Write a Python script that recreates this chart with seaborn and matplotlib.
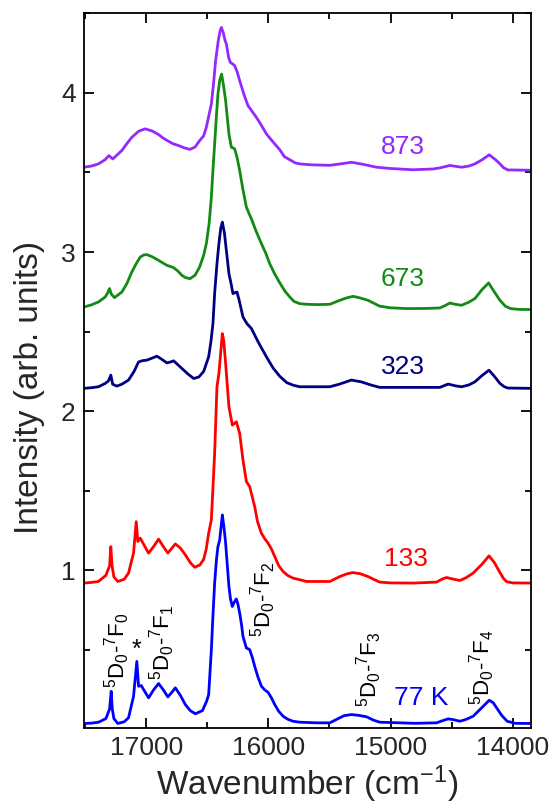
import pandas as pd
import matplotlib
matplotlib.use('Agg')
import matplotlib.pyplot as plt
import seaborn as sns
from matplotlib.ticker import MultipleLocator, FixedLocator

# Emission spectra at several temperatures
wn_77 = [17510, 17450, 17391, 17330, 17300, 17287, 17278, 17265, 17233, 17180, 17145, 17104,
         17077, 17063, 17041, 16981, 16940, 16899, 16860, 16823, 16790, 16762, 16720, 16680,
         16640, 16598, 16540, 16505, 16489, 16467, 16455, 16440, 16425, 16413, 16399, 16377,
         16365, 16350, 16337, 16323, 16310, 16295, 16280, 16262, 16250, 16235, 16220, 16208,
         16180, 16153, 16130, 16112, 16085, 16057, 16030, 16003, 15975, 15948, 15915, 15880,
         15840, 15798, 15743, 15600, 15497, 15415, 15380, 15320, 15260, 15197, 15140, 15088,
         14800, 14623, 14580, 14528, 14480, 14432, 14380, 14323, 14250, 14192, 14160, 14131,
         14090, 14045, 13980, 13850]
int_77 = [0.039, 0.041, 0.047, 0.07, 0.13, 0.241, 0.13, 0.07, 0.039, 0.05, 0.075, 0.210,
          0.429, 0.273, 0.277, 0.200, 0.25, 0.290, 0.25, 0.206, 0.235, 0.263, 0.215, 0.158,
          0.12, 0.10, 0.12, 0.18, 0.22, 0.50, 0.70, 0.92, 1.07, 1.15, 1.19, 1.349,
          1.28, 1.172, 1.04, 0.90, 0.82, 0.774, 0.80, 0.821, 0.79, 0.733, 0.66, 0.586,
          0.513, 0.503, 0.45, 0.398, 0.33, 0.273, 0.25, 0.235, 0.20, 0.158, 0.115, 0.085,
          0.065, 0.053, 0.047, 0.043, 0.043, 0.075, 0.088, 0.095, 0.09, 0.081, 0.06, 0.047,
          0.040, 0.043, 0.055, 0.068, 0.062, 0.053, 0.065, 0.085, 0.14, 0.185, 0.17, 0.137,
          0.09, 0.053, 0.040, 0.039]

wn_133 = [17510, 17450, 17391, 17330, 17300, 17290, 17280, 17265, 17233, 17180, 17145, 17104,
          17082, 17069, 17049, 16981, 16940, 16899, 16860, 16823, 16790, 16762, 16720, 16680,
          16640, 16604, 16560, 16530, 16510, 16489, 16467, 16455, 16440, 16421, 16405, 16390,
          16377, 16365, 16350, 16323, 16295, 16262, 16235, 16208, 16180, 16153, 16112, 16090,
          16057, 16030, 16003, 15975, 15948, 15915, 15880, 15840, 15798, 15743, 15688, 15600,
          15497, 15415, 15360, 15311, 15250, 15184, 15140, 15088, 15000, 14815, 14623, 14580,
          14541, 14500, 14432, 14380, 14323, 14250, 14194, 14150, 14104, 14075, 14050, 14000,
          13850]
int_133 = [0.921, 0.925, 0.931, 0.97, 1.03, 1.150, 1.03, 0.96, 0.931, 0.945, 0.984, 1.109,
           1.307, 1.182, 1.203, 1.109, 1.15, 1.197, 1.15, 1.109, 1.14, 1.167, 1.14, 1.098,
           1.05, 1.02, 1.035, 1.07, 1.13, 1.234, 1.318, 1.50, 1.736, 2.154, 2.238, 2.37,
           2.488, 2.44, 2.300, 2.028, 1.913, 1.934, 1.861, 1.694, 1.558, 1.527, 1.401, 1.31,
           1.234, 1.20, 1.172, 1.135, 1.088, 1.03, 0.994, 0.968, 0.952, 0.942, 0.931, 0.931,
           0.931, 0.962, 0.978, 0.987, 0.98, 0.962, 0.945, 0.927, 0.922, 0.921, 0.927, 0.945,
           0.956, 0.948, 0.937, 0.955, 0.984, 1.04, 1.092, 1.05, 0.987, 0.95, 0.93, 0.922,
           0.921]

wn_323 = [17510, 17450, 17391, 17336, 17310, 17290, 17275, 17241, 17200, 17145, 17100, 17063,
          17030, 16995, 16955, 16913, 16870, 16831, 16800, 16776, 16745, 16708, 16660, 16612,
          16570, 16530, 16489, 16470, 16454, 16440, 16421, 16405, 16390, 16377, 16360, 16344,
          16323, 16305, 16290, 16275, 16257, 16240, 16208, 16175, 16139, 16080, 16016, 15960,
          15907, 15850, 15798, 15743, 15650, 15497, 15420, 15320, 15240, 15160, 15088, 14900,
          14596, 14528, 14470, 14418, 14360, 14309, 14250, 14194, 14150, 14104, 14070, 14040,
          13850]
int_323 = [2.144, 2.148, 2.154, 2.175, 2.19, 2.227, 2.17, 2.158, 2.17, 2.196, 2.25, 2.310,
           2.318, 2.321, 2.333, 2.346, 2.325, 2.304, 2.31, 2.317, 2.295, 2.269, 2.235, 2.206,
           2.215, 2.25, 2.342, 2.44, 2.55, 2.74, 2.927, 3.053, 3.15, 3.188, 3.12, 3.01,
           2.865, 2.80, 2.739, 2.745, 2.749, 2.70, 2.592, 2.55, 2.52, 2.43, 2.342, 2.27,
           2.22, 2.18, 2.164, 2.154, 2.154, 2.154, 2.17, 2.196, 2.185, 2.165, 2.150, 2.15,
           2.150, 2.171, 2.16, 2.154, 2.165, 2.185, 2.225, 2.258, 2.22, 2.175, 2.155, 2.146,
           2.144]

wn_673 = [17510, 17450, 17391, 17336, 17315, 17301, 17285, 17260, 17200, 17160, 17118, 17080,
          17049, 17020, 16995, 16950, 16899, 16860, 16831, 16776, 16740, 16708, 16680, 16642,
          16600, 16563, 16530, 16508, 16485, 16467, 16455, 16440, 16425, 16413, 16398, 16383,
          16368, 16350, 16336, 16323, 16303, 16290, 16276, 16255, 16235, 16210, 16180, 16160,
          16139, 16100, 16057, 16020, 15989, 15950, 15907, 15865, 15825, 15790, 15743, 15688,
          15600, 15497, 15415, 15360, 15306, 15250, 15184, 15140, 15088, 15000, 14869, 14700,
          14596, 14550, 14514, 14470, 14418, 14360, 14309, 14250, 14197, 14150, 14104, 14060,
          14017, 13950, 13850]
int_673 = [2.655, 2.668, 2.687, 2.718, 2.745, 2.771, 2.735, 2.714, 2.749, 2.80, 2.875, 2.93,
           2.969, 2.982, 2.984, 2.97, 2.948, 2.93, 2.917, 2.902, 2.88, 2.854, 2.84, 2.833,
           2.855, 2.906, 2.98, 3.053, 3.18, 3.345, 3.50, 3.680, 3.86, 3.993, 4.08, 4.118,
           4.05, 3.951, 3.84, 3.742, 3.658, 3.655, 3.648, 3.59, 3.512, 3.40, 3.282, 3.245,
           3.209, 3.13, 3.053, 2.99, 2.927, 2.865, 2.807, 2.755, 2.718, 2.69, 2.676, 2.672,
           2.67, 2.672, 2.697, 2.712, 2.722, 2.712, 2.697, 2.68, 2.660, 2.65, 2.645, 2.646,
           2.649, 2.665, 2.680, 2.672, 2.666, 2.685, 2.708, 2.765, 2.806, 2.75, 2.697, 2.66,
           2.645, 2.64, 2.639]

wn_873 = [17510, 17450, 17391, 17336, 17306, 17274, 17200, 17160, 17118, 17060, 17008, 16950,
          16899, 16860, 16817, 16780, 16735, 16690, 16642, 16600, 16563, 16530, 16508, 16467,
          16450, 16432, 16410, 16395, 16385, 16370, 16355, 16344, 16325, 16311, 16290, 16276,
          16255, 16235, 16200, 16167, 16130, 16098, 16060, 16016, 15960, 15907, 15870, 15825,
          15780, 15743, 15650, 15497, 15400, 15320, 15230, 15115, 15000, 14815, 14650, 14596,
          14514, 14418, 14360, 14309, 14250, 14192, 14140, 14104, 14075, 14040, 13850]
int_873 = [3.533, 3.54, 3.554, 3.581, 3.606, 3.585, 3.638, 3.68, 3.721, 3.76, 3.774, 3.76,
           3.738, 3.715, 3.696, 3.68, 3.669, 3.655, 3.645, 3.66, 3.700, 3.73, 3.784, 3.930,
           4.05, 4.202, 4.33, 4.39, 4.411, 4.38, 4.33, 4.307, 4.22, 4.191, 4.18, 4.171,
           4.13, 4.077, 3.99, 3.920, 3.88, 3.846, 3.80, 3.742, 3.69, 3.643, 3.60, 3.580,
           3.56, 3.554, 3.548, 3.545, 3.555, 3.564, 3.552, 3.533, 3.525, 3.517, 3.522, 3.529,
           3.544, 3.533, 3.54, 3.554, 3.58, 3.611, 3.58, 3.554, 3.53, 3.516, 3.514]

temps = ['77 K', '133', '323', '673', '873']
colors = ['#0000FF', '#FF0000', '#000080', '#138A13', '#9428FF']
label_x = [14746, 14875, 14897, 14897, 14898]
label_y = [0.20, 1.071, 2.279, 2.833, 3.66]

# transition labels (rotated)
trans_text = [r'$^5$D$_0$-$^7$F$_0$', r'$^5$D$_0$-$^7$F$_1$', r'$^5$D$_0$-$^7$F$_2$',
              r'$^5$D$_0$-$^7$F$_3$', r'$^5$D$_0$-$^7$F$_4$']
trans_x = [17235, 16866, 16038, 15178, 14252]
trans_y = [0.265, 0.315, 0.584, 0.145, 0.158]

spectra = [(wn_77, int_77), (wn_133, int_133), (wn_323, int_323),
           (wn_673, int_673), (wn_873, int_873)]
frames = []
for t, (w, s) in zip(temps, spectra):
    frames.append(pd.DataFrame({'Wavenumber': w, 'Intensity': s, 'Temp': t}))
df = pd.concat(frames, ignore_index=True)

sns.set_style('ticks')
plt.rcParams['font.family'] = ['Liberation Sans', 'DejaVu Sans']
plt.rcParams['mathtext.fontset'] = 'custom'
plt.rcParams['mathtext.rm'] = 'Liberation Sans'
plt.rcParams['mathtext.it'] = 'Liberation Sans:italic'
plt.rcParams['mathtext.bf'] = 'Liberation Sans:bold'
plt.rcParams['mathtext.default'] = 'regular'

fig, ax = plt.subplots(figsize=(5.56, 8.09), dpi=100)
fig.subplots_adjust(left=0.151, right=0.955, top=0.9836, bottom=0.100)

sns.lineplot(data=df, x='Wavenumber', y='Intensity', hue='Temp',
             palette=dict(zip(temps, colors)), estimator=None, sort=True,
             linewidth=2.0, legend=False, ax=ax)

for t, c, lx, ly in zip(temps, colors, label_x, label_y):
    ax.text(lx, ly, t, color=c, fontsize=19, ha='center', va='center')

for s, tx, ty in zip(trans_text, trans_x, trans_y):
    ax.text(tx, ty, s, rotation=90, fontsize=16, ha='center', va='bottom', color='black')
ax.text(17077, 0.50, '*', fontsize=18, ha='center', va='center', color='black')

ax.set_xlim(17510, 13850)
ax.set_ylim(0.01, 4.5)
ax.xaxis.set_major_locator(FixedLocator([17000, 16000, 15000, 14000]))
ax.xaxis.set_minor_locator(MultipleLocator(500))
ax.yaxis.set_major_locator(FixedLocator([1, 2, 3, 4]))
ax.yaxis.set_minor_locator(MultipleLocator(0.5))
ax.tick_params(which='both', direction='in', top=True, right=True, width=1.3,
               labelsize=19, color='black')
ax.tick_params(which='major', length=7, pad=6)
ax.tick_params(which='minor', length=4.5)
for sp in ax.spines.values():
    sp.set_linewidth(1.3)
    sp.set_color('black')

ax.set_xlabel('Wavenumber (cm$^{-1}$)', fontsize=24, labelpad=2)
ax.set_ylabel('Intensity (arb. units)', fontsize=24)
ax.yaxis.set_label_coords(-0.088, 0.477)

fig.savefig('out.png', dpi=100)
plt.close()
